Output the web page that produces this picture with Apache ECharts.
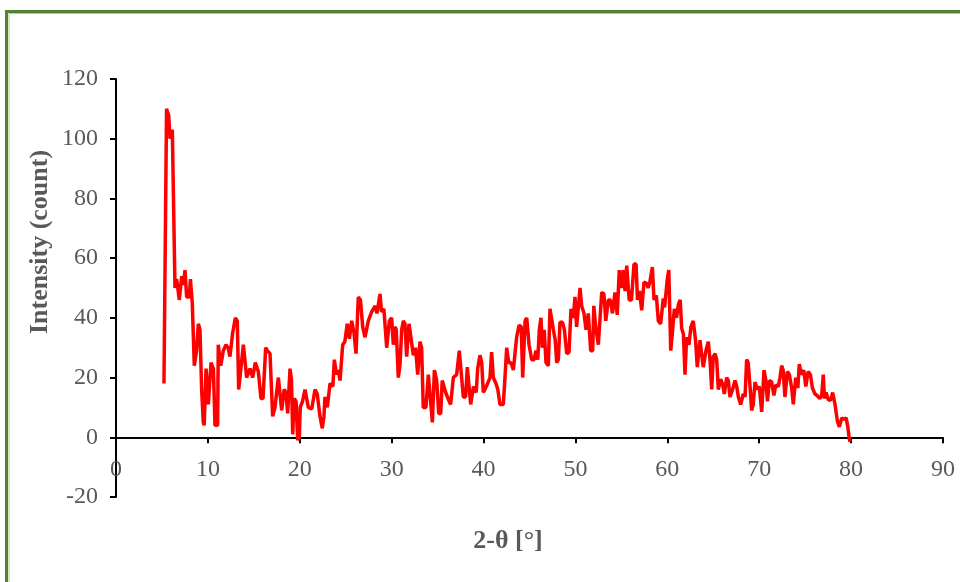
<!DOCTYPE html>
<html>
<head>
<meta charset="utf-8">
<script src="https://cdn.jsdelivr.net/npm/echarts@6/dist/echarts.min.js"></script>
<style>
html,body{margin:0;padding:0;background:#fff;}
#chart{width:960px;height:582px;}
</style>
</head>
<body>
<div id="chart"></div>
<script>
var twoTheta = [5.22,5.5,5.6,5.73,5.88,6.13,6.42,6.6,6.89,7.15,7.33,7.51,7.69,7.98,8.1,8.3,8.52,8.77,8.96,9.14,9.32,9.5,9.6,9.8,10.05,10.34,10.6,10.77,11.06,11.13,11.4,11.68,11.97,12.2,12.4,12.7,12.99,13.2,13.35,13.55,13.86,14.05,14.22,14.58,14.87,15.16,15.49,15.78,16.0,16.29,16.47,16.76,17.05,17.3,17.67,17.85,18.03,18.3,18.5,18.68,18.94,19.1,19.23,19.4,19.6,19.77,19.95,20.05,20.3,20.57,20.75,20.93,21.3,21.66,21.9,22.2,22.45,22.63,22.74,23.0,23.29,23.6,23.76,24.0,24.2,24.38,24.67,24.9,25.17,25.4,25.65,25.9,26.12,26.37,26.6,26.85,27.1,27.46,27.82,28.2,28.4,28.73,28.9,29.15,29.46,29.75,30.0,30.18,30.35,30.5,30.72,30.9,31.09,31.27,31.45,31.63,31.89,32.1,32.36,32.6,32.83,33.08,33.26,33.44,33.73,33.99,34.17,34.43,34.65,34.9,35.12,35.34,35.5,35.7,35.88,36.13,36.42,36.71,37.07,37.36,37.54,37.8,38.05,38.23,38.4,38.6,38.9,39.2,39.36,39.61,39.8,39.97,40.15,40.44,40.7,40.88,41.06,41.35,41.55,41.79,42.15,42.33,42.52,42.74,43.0,43.24,43.6,43.86,44.1,44.26,44.52,44.7,44.95,45.24,45.5,45.7,45.9,46.07,46.25,46.4,46.6,46.8,47.05,47.23,47.4,47.6,47.8,47.96,48.14,48.32,48.6,48.8,49.05,49.3,49.52,49.77,49.95,50.13,50.3,50.5,50.68,50.93,51.15,51.4,51.66,51.88,52.0,52.2,52.49,52.7,52.86,53.1,53.3,53.58,53.8,54.03,54.3,54.55,54.77,55.0,55.2,55.4,55.58,55.85,56.1,56.37,56.6,56.75,56.97,57.21,57.46,57.76,57.9,58.1,58.37,58.55,58.8,59.02,59.27,59.56,59.7,60.0,60.16,60.37,60.55,60.76,61.0,61.2,61.4,61.56,61.75,61.92,62.1,62.35,62.57,62.82,63.07,63.26,63.55,63.73,63.91,64.2,64.46,64.64,64.83,65.0,65.2,65.37,65.55,65.8,66.0,66.2,66.46,66.64,66.82,67.1,67.37,67.55,67.73,67.98,68.27,68.46,68.63,68.8,69.05,69.17,69.35,69.54,69.8,70.0,70.27,70.52,70.7,70.9,71.1,71.35,71.6,71.8,72.08,72.26,72.44,72.6,72.8,73.06,73.28,73.53,73.71,73.97,74.2,74.36,74.6,74.85,75.07,75.32,75.57,75.79,76.07,76.3,76.6,76.8,76.97,77.1,77.28,77.53,77.78,77.99,78.25,78.5,78.72,78.98,79.24,79.46,79.64,79.8,79.88];
var intensity = [18,110,109,108,100,103,50,53,46,54,51,56,47,47,53,45,24,29,38,36,16,5,4,23,11,25,23,4,4,31,24,29,31,30,27,35,40,39,16,16,31,31,20,23,20,25,22,13,13,30,29,28,7,10,20,20,9,16,15,8,23,19,1,13,12,-1,0,10,12,16,16,10,9.5,16,14.5,7,3,7,13.5,10,18,17,26,21,22.5,19,31,32,38,33,39,35,28,47,46,37,33.5,39,42,44,41.5,48,42,43,30,39,40,31,37,36,20,24,36,39,38,27,38,38,27.5,30,21,32,30,10,10,21,21,5,22.5,19,8,8,19,19,15,13,11,20,21,29,28.5,13.5,13.5,23.5,23,11,17,15,23,27.5,25,15,16,18,20,28.5,20,18,16,11,11,20,30,25,25,22.5,33.5,37.5,37,20,39,40,31,26,26,29,26,36,40,30,36,25,24,43,43,36,32.5,25,26,38.5,38.5,36,28,28.5,43,40,47,37,37,50,44,41.5,36,41.5,29,29,44,37,31,31,48.5,48,39,46,46,41.5,48.5,41,56,50,56,49,57.5,46,46,58,58,46,49,42.5,52,51.5,50,52,57,46,47.5,39,38,46.5,43.5,53,56,29,35,43,40,44.5,46,36.5,34.5,21,33.5,31,37,39,32.5,23.5,32.5,32,23.5,29,32,26,16,27,28,26,16,19.5,18,14.5,20,19,13.5,16,19,17,13.5,11,14.5,13.5,26,25,15,9,11,18.5,16,17,8.5,22.5,19.5,12,19,18.5,14,17.5,17,20,24,22.5,13.5,22,21,16.5,11,20,16.5,24.5,21,22.5,17,22,21,16.5,14.5,14,13,14,21,13,15,12.5,12.5,15,11,5.5,3.5,6.5,6,6.5,3.5,-0.5,-1.5];
var xTicks = {min: 0, max: 90, step: 10};
var yTicks = {min: -20, max: 120, step: 20};
var xTitle = '2-θ [°]';
var yTitle = 'Intensity (count)';

var seriesData = twoTheta.map(function (x, i) { return [x, intensity[i]]; });
var font = "'Liberation Serif','Times New Roman',serif";
var chart = echarts.init(document.getElementById('chart'), null, {renderer: 'canvas'});
chart.setOption({
  animation: false,
  backgroundColor: '#ffffff',
  grid: {left: 116, right: 17, top: 79, bottom: 85, containLabel: false, outerBoundsMode: 'none'},
  xAxis: {
    type: 'value', min: xTicks.min, max: xTicks.max, interval: xTicks.step,
    axisLine: {onZero: true, lineStyle: {color: '#000', width: 2}},
    axisTick: {show: true, inside: false, length: 6, lineStyle: {color: '#000', width: 2}},
    axisLabel: {margin: -39, fontFamily: font, fontSize: 24, color: '#595959'},
    splitLine: {show: false}
  },
  yAxis: {
    type: 'value', min: yTicks.min, max: yTicks.max, interval: yTicks.step,
    axisLine: {show: true, onZero: false, lineStyle: {color: '#000', width: 2}},
    axisTick: {show: true, inside: false, length: 6, lineStyle: {color: '#000', width: 2}},
    axisLabel: {margin: 18, fontFamily: font, fontSize: 24, color: '#595959'},
    splitLine: {show: false}
  },
  series: [{
    type: 'line', data: seriesData, showSymbol: false, symbol: 'none',
    lineStyle: {color: '#ff0000', width: 3.5}, itemStyle: {color: '#ff0000'},
    clip: false
  }],
  graphic: [
    {type: 'rect', silent: true, shape: {x: 6.5, y: 11.5, width: 1000, height: 700},
     style: {fill: 'none', stroke: '#548235', lineWidth: 3}},
    {type: 'rect', silent: true, shape: {x: 9, y: 13.5, width: 1000, height: 700},
     style: {fill: 'none', stroke: '#a9d18e', lineWidth: 1}},
    {type: 'text', silent: true, x: 40, y: 242, rotation: Math.PI / 2,
     style: {text: yTitle, font: 'bold 26px ' + font, fill: '#595959', align: 'center', verticalAlign: 'middle'}},
    {type: 'text', silent: true, x: 508, y: 541,
     style: {text: xTitle, font: 'bold 26px ' + font, fill: '#595959', align: 'center', verticalAlign: 'middle'}}
  ]
});
</script>
</body>
</html>
